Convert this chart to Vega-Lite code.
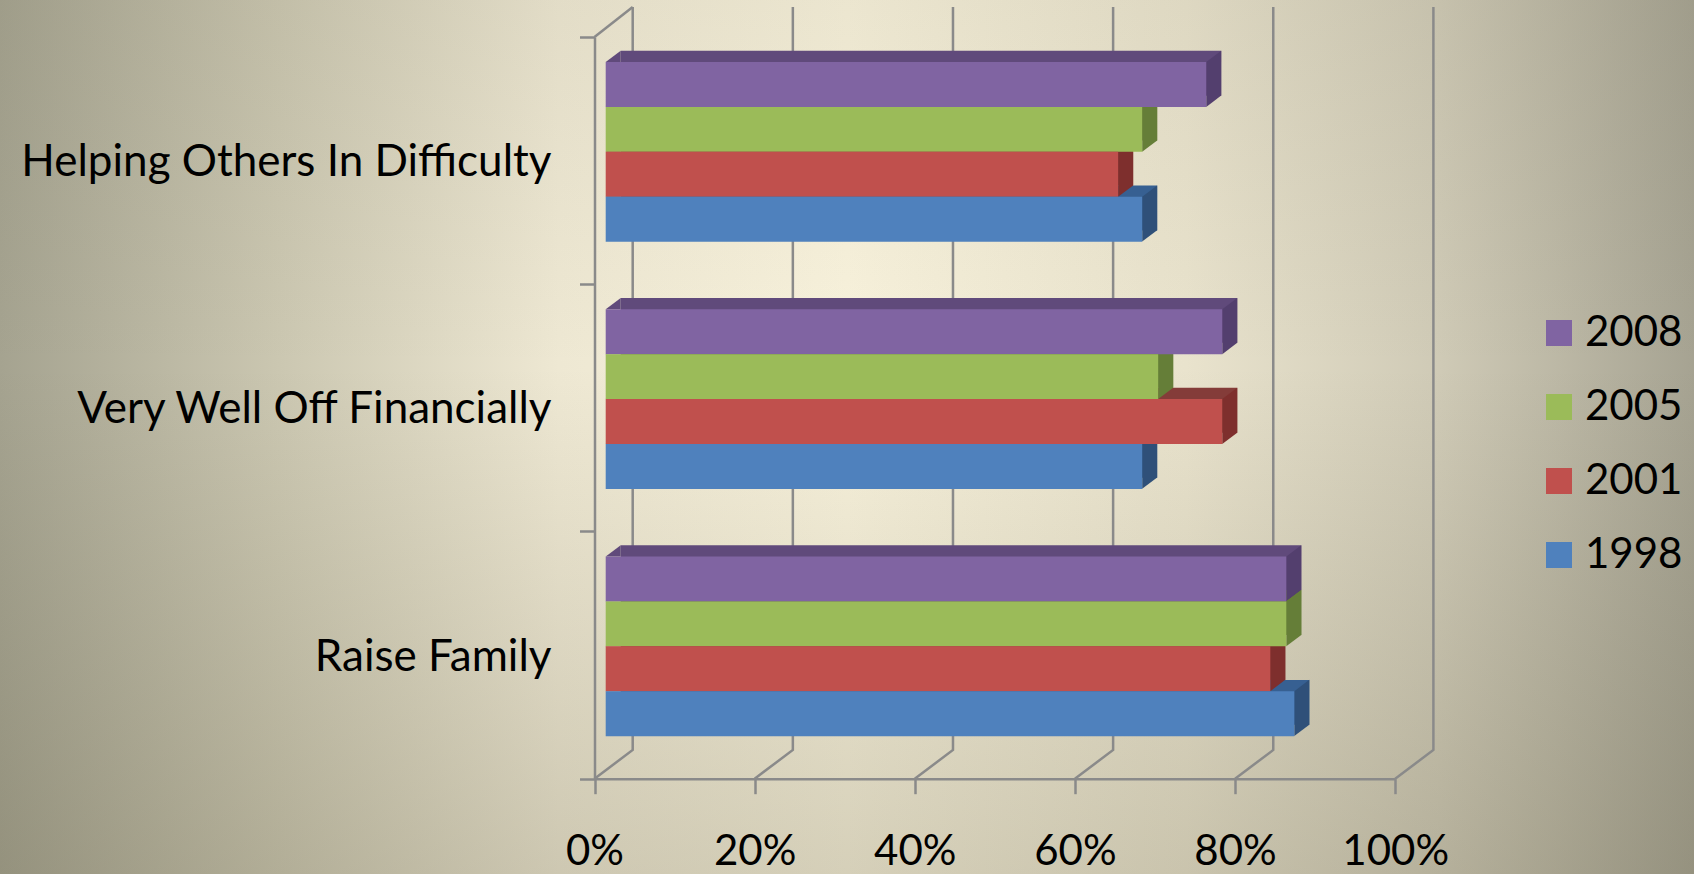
{
"$schema":"https://vega.github.io/schema/vega-lite/v6.json",
"width":1694,"height":874,"padding":0,"autosize":"none",
"view":{"stroke":null,"fill":{"gradient":"linear","x1":0,"y1":0,"x2":1,"y2":0,"stops":[{"offset":0,"color":"#a5a390"},{"offset":0.165,"color":"#cbc7b1"},{"offset":0.33,"color":"#eee8d3"},{"offset":0.5,"color":"#f8f2dc"},{"offset":0.7,"color":"#e9e3cd"},{"offset":0.85,"color":"#cfcab6"},{"offset":1,"color":"#a6a392"}]}},
"datasets":{
"bars":[
{"category":"Helping Others In Difficulty","year":"2008","value":75},
{"category":"Helping Others In Difficulty","year":"2005","value":67},
{"category":"Helping Others In Difficulty","year":"2001","value":64},
{"category":"Helping Others In Difficulty","year":"1998","value":67},
{"category":"Very Well Off Financially","year":"2008","value":77},
{"category":"Very Well Off Financially","year":"2005","value":69},
{"category":"Very Well Off Financially","year":"2001","value":77},
{"category":"Very Well Off Financially","year":"1998","value":67},
{"category":"Raise Family","year":"2008","value":85},
{"category":"Raise Family","year":"2005","value":85},
{"category":"Raise Family","year":"2001","value":83},
{"category":"Raise Family","year":"1998","value":86}
],
"grid":[{"value":0,"category":"Raise Family"},{"value":20,"category":"Raise Family"},{"value":40,"category":"Raise Family"},{"value":60,"category":"Raise Family"},{"value":80,"category":"Raise Family"},{"value":100,"category":"Raise Family"}]
},
"encoding":{
"x":{"field":"value","type":"quantitative","title":null,"scale":{"domain":[0,100],"range":[594.5,1395.2],"nice":false,"zero":false},
 "axis":{"orient":"bottom","offset":-95.3,"zindex":1,"values":[0,20,40,60,80,100],"labelExpr":"datum.value+'%'","labelFont":"Lato","labelFontSize":42,"labelColor":"#000000","labelPadding":38,"labelFlush":false,"labelOverlap":false,"grid":false,"domainColor":"#8a8a8a","domainWidth":2.5,"tickColor":"#8a8a8a","tickWidth":2.5,"tickSize":15,"title":null}},
"y":{"field":"category","type":"nominal","title":null,"sort":null,"scale":{"domain":["Helping Others In Difficulty","Very Well Off Financially","Raise Family"],"range":[37,778.7],"paddingInner":0,"paddingOuter":0},
 "axis":{"orient":"left","offset":-594.5,"zindex":1,"tickBand":"extent","labelFont":"Lato","labelFontSize":44,"labelColor":"#000000","labelPadding":28.5,"labelOffset":2,"labelLimit":800,"encoding":{"labels":{"update":{"dx":{"signal":"datum.label=='Helping Others In Difficulty'?-11:0"}}}},"grid":false,"domainColor":"#8a8a8a","domainWidth":2.5,"tickColor":"#8a8a8a","tickWidth":2.5,"tickSize":15,"title":null}}
},
"layer":[
{"data":{"values":[{"panel":"background"}]},"mark":{"type":"rect","fill":{"gradient":"linear","x1":0,"y1":0,"x2":0,"y2":1,"stops":[{"offset":0,"color":"rgba(90,85,60,0.08)"},{"offset":0.42,"color":"rgba(90,85,60,0)"},{"offset":1,"color":"rgba(90,85,60,0.22)"}]}},"encoding":{"x":null,"y":null}},
{"data":{"name":"grid"},"mark":{"type":"point","shape":"M0,0L38.2,-28.7L38.2,-771.7","size":4,"filled":false,"stroke":"#8a8a8a","strokeWidth":2.5,"opacity":1},
 "encoding":{"y":{"field":"category","type":"nominal","title":null,"sort":null,"bandPosition":1}}},
{"data":{"values":[{"value":0,"category":"Helping Others In Difficulty"}]},"mark":{"type":"point","shape":"M0,0L38.2,-30","size":4,"filled":false,"stroke":"#8a8a8a","strokeWidth":2.5,"opacity":1},
 "encoding":{"y":{"field":"category","type":"nominal","title":null,"sort":null,"bandPosition":0}}},
{"data":{"name":"bars"},"mark":{"type":"bar","xOffset":26.2},"encoding":{"yOffset":{"field":"year","type":"nominal","sort":null,"scale":{"domain":["2008","2005","2001","1998"],"range":[13.7,193.4],"paddingInner":0,"paddingOuter":0}},"fill":{"field":"year","type":"nominal","legend":null,"scale":{"domain":["2008","2005","2001","1998"],"range":["#604a7b","#657e38","#843c39","#376092"]}}}},
{"data":{"name":"bars"},"mark":{"type":"point","shape":"M0,0L15,-11.3L15,0Z","size":4,"filled":true,"opacity":1,"xOffset":11.2},"encoding":{"x":{"datum":0,"type":"quantitative"},"yOffset":{"field":"year","type":"nominal","sort":null,"scale":{"domain":["2008","2005","2001","1998"],"range":[25,159.7],"padding":0}},"fill":{"field":"year","type":"nominal","legend":null,"scale":{"domain":["2008","2005","2001","1998"],"range":["#604a7b","#657e38","#843c39","#376092"]}}}},
{"data":{"name":"bars"},"mark":{"type":"point","shape":"M0,0L15,-11.3L15,33.6L0,44.9Z","size":4,"filled":true,"opacity":1,"xOffset":11.2},"encoding":{"yOffset":{"field":"year","type":"nominal","sort":null,"scale":{"domain":["2008","2005","2001","1998"],"range":[25,159.7],"padding":0}},"fill":{"field":"year","type":"nominal","legend":null,"scale":{"domain":["2008","2005","2001","1998"],"range":["#533f6e","#657e38","#7e2f2d","#2f5079"]}}}},
{"data":{"name":"bars"},"mark":{"type":"bar","xOffset":11.2},"encoding":{"yOffset":{"field":"year","type":"nominal","sort":null,"scale":{"domain":["2008","2005","2001","1998"],"range":[25,204.7],"paddingInner":0,"paddingOuter":0}},"color":{"field":"year","type":"nominal","sort":null,"scale":{"domain":["2008","2005","2001","1998"],"range":["#8064a2","#9bbb59","#c0504d","#4f81bd"]},
 "legend":{"orient":"none","legendX":1538,"legendY":312,"title":null,"symbolType":"square","symbolSize":676,"symbolStrokeWidth":0,"symbolOpacity":1,"labelFont":"Lato","labelFontSize":42,"labelColor":"#000000","labelOffset":5,"rowPadding":32,"padding":0,"labelLimit":300}}}}
],
"resolve":{"scale":{"fill":"independent","yOffset":"independent"}}
}
